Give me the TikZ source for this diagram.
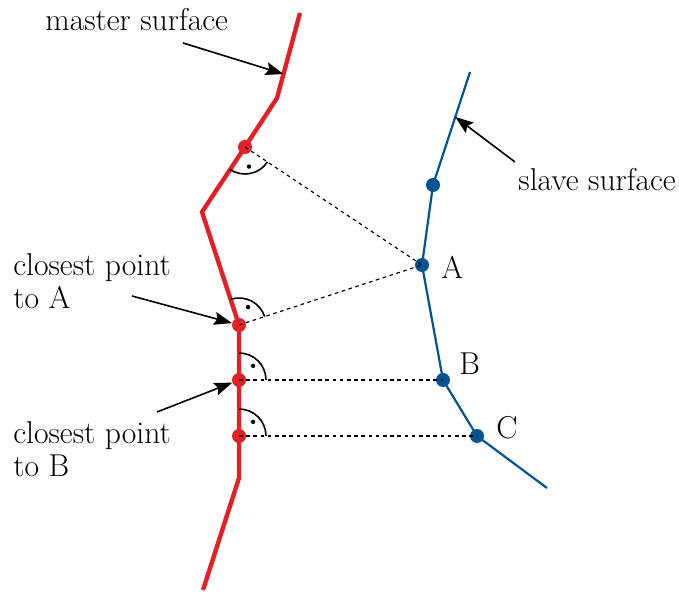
\documentclass[tikz,border=0pt]{standalone}
\usepackage{fix-cm}
\usetikzlibrary{arrows.meta,calc}

\definecolor{masterred}{RGB}{228,32,38}
\definecolor{slaveblue}{RGB}{0,84,147}

\tikzset{
    master/.style={masterred, line width=2.2pt},
    slave/.style={slaveblue, line width=1.1pt},
    gap/.style={black, line width=0.6pt, dash pattern=on 1.8pt off 1.8pt},
    pointer/.style={->, black, line width=0.8pt, shorten >=#1},
    pointer/.default=0pt,
    label/.style={font=\fontsize{15.8}{16.5}\selectfont, inner sep=0pt},
    perp/.style={black, line width=0.8pt}
}

% right angle mark: point, start angle
\newcommand{\perpmark}[2]{%
    \draw[perp] ([shift={(#2:13.5pt)}]#1) arc[start angle=#2, delta angle=90, radius=13.5pt];
    \fill ([shift={(#2+45:10pt)}]#1) circle[radius=1.1pt];
}

\begin{document}
\begin{tikzpicture}[x=0.5pt, y=-0.5pt, >={Stealth[length=9pt, width=6.5pt, inset=1.5pt]}]
        \useasboundingbox (0,0) rectangle (679,592);

        % Master surface (red)
        \coordinate (m0) at (300,13);
        \coordinate (m1) at (277,98);
        \coordinate (m2) at (245,147);
        \coordinate (m3) at (202,212);
        \coordinate (m4) at (239,325);
        \coordinate (m5) at (239,380);
        \coordinate (m6) at (239,436);
        \coordinate (m7) at (239,478);
        \coordinate (m8) at (203,590);
        \draw[master] (m0) -- (m1) -- (m2) -- (m3) -- (m4) -- (m5) -- (m6) -- (m7) -- (m8);

        % Slave surface (blue)
        \coordinate (s0) at (470,72);
        \coordinate (s1) at (433,185);
        \coordinate (A) at (422,265);
        \coordinate (B) at (443,380);
        \coordinate (C) at (477,436);
        \coordinate (s5) at (547,488);
        \draw[slave] (s0) -- (s1) -- (A) -- (B) -- (C) -- (s5);

        % Right angle marks
        \perpmark{m2}{236.5}
        \perpmark{m4}{18.2}
        \perpmark{m5}{0}
        \perpmark{m6}{0}

        % Points
        \foreach \p in {m2, m4, m5, m6}
            \fill[masterred] (\p) circle[radius=3.5pt];
        \foreach \p in {s1, A, B, C}
            \fill[slaveblue] (\p) circle[radius=3.5pt];

        % Projections
        \draw[gap] (m2) -- (A);
        \draw[gap] (m4) -- (A);
        \draw[gap] (m5) -- (B);
        \draw[gap] (m6) -- (C);

        % Point labels
        \node[label, anchor=west] (labA) at (441,267) {A};
        \node[label, anchor=west] (labB) at (459,364) {B};
        \node[label, anchor=west] (labC) at (496,428) {C};

        % Surface labels
        \node[label, anchor=west] (master) at (45,20) {master surface};
        \node[label, anchor=west] (slave) at (518,180) {slave surface};
        \node[label, anchor=west, align=left] (closeA) at (13,281) {closest point\\to A};
        \node[label, anchor=west, align=left] (closeB) at (13,449) {closest point\\to B};

        % Pointers
        \coordinate (tm) at (183,43);
        \coordinate (ts) at (515,162);
        \coordinate (ta) at (132,296);
        \coordinate (tb) at (157,412);
        \draw[pointer] (tm) -- ($(m0)!0.718!(m1)$);
        \draw[pointer] (ts) -- ($(s0)!0.398!(s1)$);
        \draw[pointer=3.6pt] (ta) -- (m4);
        \draw[pointer=3.6pt] (tb) -- (m5);
\end{tikzpicture}
\end{document}
